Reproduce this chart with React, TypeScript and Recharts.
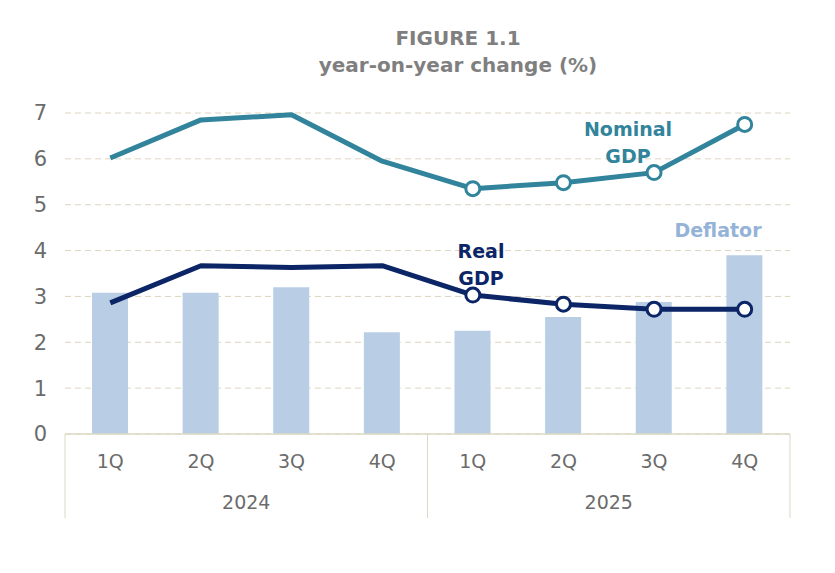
import React from "react";
import {
  ComposedChart,
  Bar,
  Line,
  XAxis,
  YAxis,
  CartesianGrid,
} from "recharts";

const quarters = ["1Q", "2Q", "3Q", "4Q", "1Q", "2Q", "3Q", "4Q"];
const years = ["2024", "2024", "2024", "2024", "2025", "2025", "2025", "2025"];
const deflator = [3.08, 3.08, 3.2, 2.22, 2.25, 2.55, 2.88, 3.9];
const nominalGdp = [6.02, 6.85, 6.96, 5.95, 5.35, 5.48, 5.7, 6.75];
const realGdp = [2.86, 3.67, 3.63, 3.67, 3.03, 2.83, 2.72, 2.72];
const yTicks = [0, 1, 2, 3, 4, 5, 6, 7];

const data = quarters.map((q, i) => ({
  q,
  year: years[i],
  deflator: deflator[i],
  nominal: nominalGdp[i],
  real: realGdp[i],
}));

const W = 835;
const H = 573;
const M = { top: 113, right: 45, bottom: 0, left: 0 };
const Y_W = 65;
const X_H = H - 434;
const BAND = (W - M.left - M.right - Y_W) / quarters.length;

const FONT = "'DejaVu Sans', Verdana, sans-serif";
const TICK_COLOR = "#6b6b6b";
const FRAME = "#ddd8c4";

const XTick = (props: any) => {
  const { x, y, payload, index } = props;
  const top = y;
  const els: React.ReactNode[] = [];
  els.push(
    <text key="q" x={x} y={top + 27} textAnchor="middle" dominantBaseline="central"
      fill={TICK_COLOR} fontSize={19} fontFamily={FONT}>
      {payload.value}
    </text>
  );
  const first = index === 0 || years[index] !== years[index - 1];
  const last = index === years.length - 1;
  if (first) {
    els.push(<line key="l" x1={x - BAND / 2} x2={x - BAND / 2} y1={top} y2={top + 84} stroke={FRAME} strokeWidth={1} />);
  }
  if (last) {
    els.push(<line key="r" x1={x + BAND / 2} x2={x + BAND / 2} y1={top} y2={top + 84} stroke={FRAME} strokeWidth={1} />);
  }
  const idxs = years.map((yv, i) => (yv === years[index] ? i : -1)).filter((i) => i >= 0);
  const mid = Math.floor((idxs.length - 1) / 2);
  if (index === idxs[mid]) {
    const cx = x + ((idxs.length - 1) / 2 - mid) * BAND;
    els.push(
      <text key="y" x={cx} y={top + 68} textAnchor="middle" dominantBaseline="central"
        fill={TICK_COLOR} fontSize={19} fontFamily={FONT}>
        {years[index]}
      </text>
    );
  }
  return <g>{els}</g>;
};

const makeDot = (color: string) => (props: any) => {
  const { cx, cy, index } = props;
  if (years[index] !== "2025") return <g key={`d${index}`} />;
  return (
    <circle key={`d${index}`} cx={cx} cy={cy} r={7} fill="#ffffff" stroke={color} strokeWidth={3} />
  );
};

const NOMINAL = "#31849b";
const REAL = "#0b2566";
const BAR = "#b9cde5";
const DEFL_TXT = "#95b3d7";

const labelStyle: React.CSSProperties = {
  position: "absolute",
  fontFamily: FONT,
  fontWeight: "bold",
  fontSize: 19,
  lineHeight: "27px",
  textAlign: "center",
  whiteSpace: "nowrap",
};

export default function App() {
  return (
    <div style={{ position: "absolute", left: 0, top: 0, width: W, height: H, background: "#fff" }}>
      <div style={{ ...labelStyle, left: 258, width: 400, top: 25, color: "#7f7f7f", fontSize: 20, lineHeight: "27px" }}>
        FIGURE 1.1
        <br />
        year-on-year change (%)
      </div>
      <ComposedChart width={W} height={H} data={data} margin={M}>
        <CartesianGrid vertical={false} stroke="#dcd5bf" strokeDasharray="6 4" />
        <XAxis
          dataKey="q"
          interval={0}
          height={X_H}
          tickLine={false}
          tickSize={0}
          tickMargin={0}
          axisLine={{ stroke: FRAME, strokeWidth: 1.5 }}
          tick={<XTick />}
        />
        <YAxis
          domain={[0, 7]}
          ticks={yTicks}
          width={Y_W}
          axisLine={false}
          tickLine={false}
          tickMargin={12}
          tick={{ fill: TICK_COLOR, fontSize: 21, fontFamily: FONT }}
        />
        <Bar dataKey="deflator" fill={BAR} barSize={36} isAnimationActive={false} />
        <Line
          dataKey="nominal"
          type="linear"
          stroke={NOMINAL}
          strokeWidth={5}
          strokeLinejoin="round"
          dot={makeDot(NOMINAL)}
          activeDot={false}
          isAnimationActive={false}
        />
        <Line
          dataKey="real"
          type="linear"
          stroke={REAL}
          strokeWidth={5}
          strokeLinejoin="round"
          dot={makeDot(REAL)}
          activeDot={false}
          isAnimationActive={false}
        />
      </ComposedChart>
      <div style={{ ...labelStyle, left: 568, width: 120, top: 116, color: NOMINAL }}>
        Nominal
        <br />
        GDP
      </div>
      <div style={{ ...labelStyle, left: 431, width: 100, top: 238, color: REAL }}>
        Real
        <br />
        GDP
      </div>
      <div style={{ ...labelStyle, left: 658, width: 120, top: 217, color: DEFL_TXT }}>
        Deflator
      </div>
    </div>
  );
}
